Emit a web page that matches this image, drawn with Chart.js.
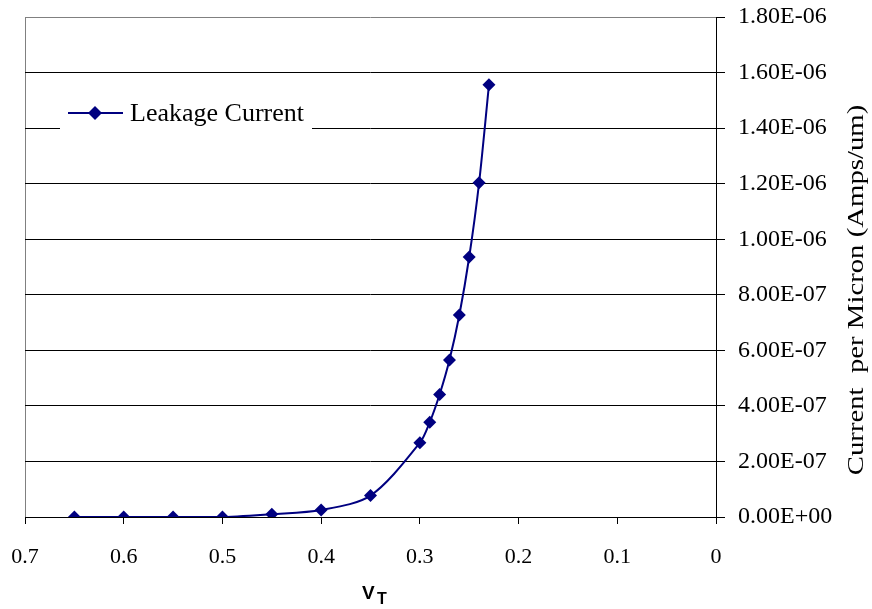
<!DOCTYPE html>
<html>
<head>
<meta charset="utf-8">
<script src="https://cdn.jsdelivr.net/npm/chart.js@4"></script>
<style>
  body { margin: 0; background: #fff; }
  #wrap { width: 872px; height: 609px; position: relative; }
</style>
</head>
<body>
<div id="wrap"><canvas id="myChart"></canvas></div>
<script>
const vtValues = [0.65, 0.6, 0.55, 0.5, 0.45, 0.4, 0.35, 0.3, 0.29, 0.28, 0.27, 0.26, 0.25, 0.24, 0.23];
const leakage = [0, 0, 0, 0, 1.0e-8, 2.5e-8, 7.7e-8, 2.67e-7, 3.41e-7, 4.41e-7, 5.65e-7, 7.27e-7, 9.36e-7, 1.203e-6, 1.556e-6];
const seriesName = "Leakage Current";
const yTitle = "Current  per Micron (Amps/um)";

const serif = "'Liberation Serif', 'Times New Roman', serif";
const navy = "#000080";

function sciLabel(v) {
  if (Math.abs(v) < 1e-15) return "0.00E+00";
  let e = Math.floor(Math.log10(v));
  let m = v / Math.pow(10, e);
  if (Number(m.toFixed(2)) >= 10) { e += 1; m = v / Math.pow(10, e); }
  const sign = e < 0 ? "-" : "+";
  const ae = Math.abs(e);
  return m.toFixed(2) + "E" + sign + (ae < 10 ? "0" + ae : ae);
}

const points = vtValues.map((x, i) => ({ x: x, y: leakage[i] }));

// legend box, y title and V_T title drawn by hand
const extras = {
  id: "extras",
  beforeDatasetsDraw(chart) {
    const ctx = chart.ctx;
    ctx.save();
    ctx.fillStyle = "#fff";
    ctx.fillRect(60, 96, 252, 37);
    ctx.strokeStyle = navy;
    ctx.lineWidth = 2;
    ctx.beginPath();
    ctx.moveTo(68, 113);
    ctx.lineTo(123, 113);
    ctx.stroke();
    ctx.fillStyle = navy;
    ctx.beginPath();
    ctx.moveTo(95, 106);
    ctx.lineTo(102, 113);
    ctx.lineTo(95, 120);
    ctx.lineTo(88, 113);
    ctx.closePath();
    ctx.fill();
    ctx.fillStyle = "#000";
    ctx.font = "26px " + serif;
    ctx.textBaseline = "alphabetic";
    ctx.textAlign = "left";
    ctx.fillText(seriesName, 130, 121);
    ctx.restore();
  },
  afterDraw(chart) {
    const ctx = chart.ctx;
    ctx.save();
    ctx.fillStyle = "#000";
    ctx.font = "23px " + serif;
    ctx.textAlign = "center";
    ctx.textBaseline = "middle";
    ctx.translate(857, 290);
    ctx.rotate(-Math.PI / 2);
    ctx.scale(1.25, 1);
    ctx.fillText(yTitle, 0, 0);
    ctx.restore();

    ctx.save();
    ctx.fillStyle = "#000";
    ctx.textBaseline = "alphabetic";
    ctx.textAlign = "left";
    ctx.font = "bold 19px 'Liberation Sans', Arial, sans-serif";
    ctx.fillText("V", 362, 599);
    ctx.font = "bold 16px 'Liberation Sans', Arial, sans-serif";
    ctx.fillText("T", 377, 604);
    ctx.restore();
  }
};

const config = {
  type: "line",
  data: {
    datasets: [
      {
        label: seriesName,
        data: points,
        borderColor: navy,
        backgroundColor: navy,
        borderWidth: 2,
        pointStyle: "rectRot",
        pointRadius: 6.5,
        pointHoverRadius: 6.5,
        pointBorderWidth: 0,
        tension: 0.3,
        fill: false
      }
    ]
  },
  options: {
    responsive: true,
    maintainAspectRatio: false,
    animation: false,
    events: [],
    layout: { padding: { left: 25, top: 17, right: 0, bottom: 0 } },
    plugins: {
      legend: { display: false },
      tooltip: { enabled: false }
    },
    scales: {
      x: {
        type: "linear",
        reverse: true,
        min: 0,
        max: 0.7,
        afterFit(scale) {
          scale.height = 92;
          scale.paddingLeft = 0;
          scale.paddingRight = 0;
        },
        ticks: {
          stepSize: 0.1,
          color: "#000",
          padding: 20,
          maxRotation: 0,
          font: { family: serif, size: 22 },
          callback: (v) => String(Number(v.toFixed(1)))
        },
        grid: {
          drawOnChartArea: true,
          color: (c) => (c.tick && Math.abs(c.tick.value - 0.7) < 1e-9 ? "#808080" : "rgba(0,0,0,0)"),
          tickColor: "#000",
          tickLength: 7,
          lineWidth: 1
        },
        border: { display: true, color: "#000", width: 1 }
      },
      y: {
        position: "right",
        min: 0,
        max: 1.8e-6,
        afterFit(scale) {
          scale.width = 156;
          scale.paddingTop = 0;
          scale.paddingBottom = 0;
        },
        ticks: {
          stepSize: 2e-7,
          color: "#000",
          padding: 13,
          font: { family: serif, size: 24 },
          callback: (v) => sciLabel(v)
        },
        grid: {
          color: (c) => (c.tick && Math.abs(c.tick.value - 1.8e-6) < 1e-12 ? "#808080" : "#000"),
          tickColor: "#000",
          tickLength: 9,
          lineWidth: 1
        },
        border: { display: true, color: "#000", width: 1 }
      }
    }
  },
  plugins: [extras]
};

const myChart = new Chart(document.getElementById("myChart"), config);
</script>
</body>
</html>
